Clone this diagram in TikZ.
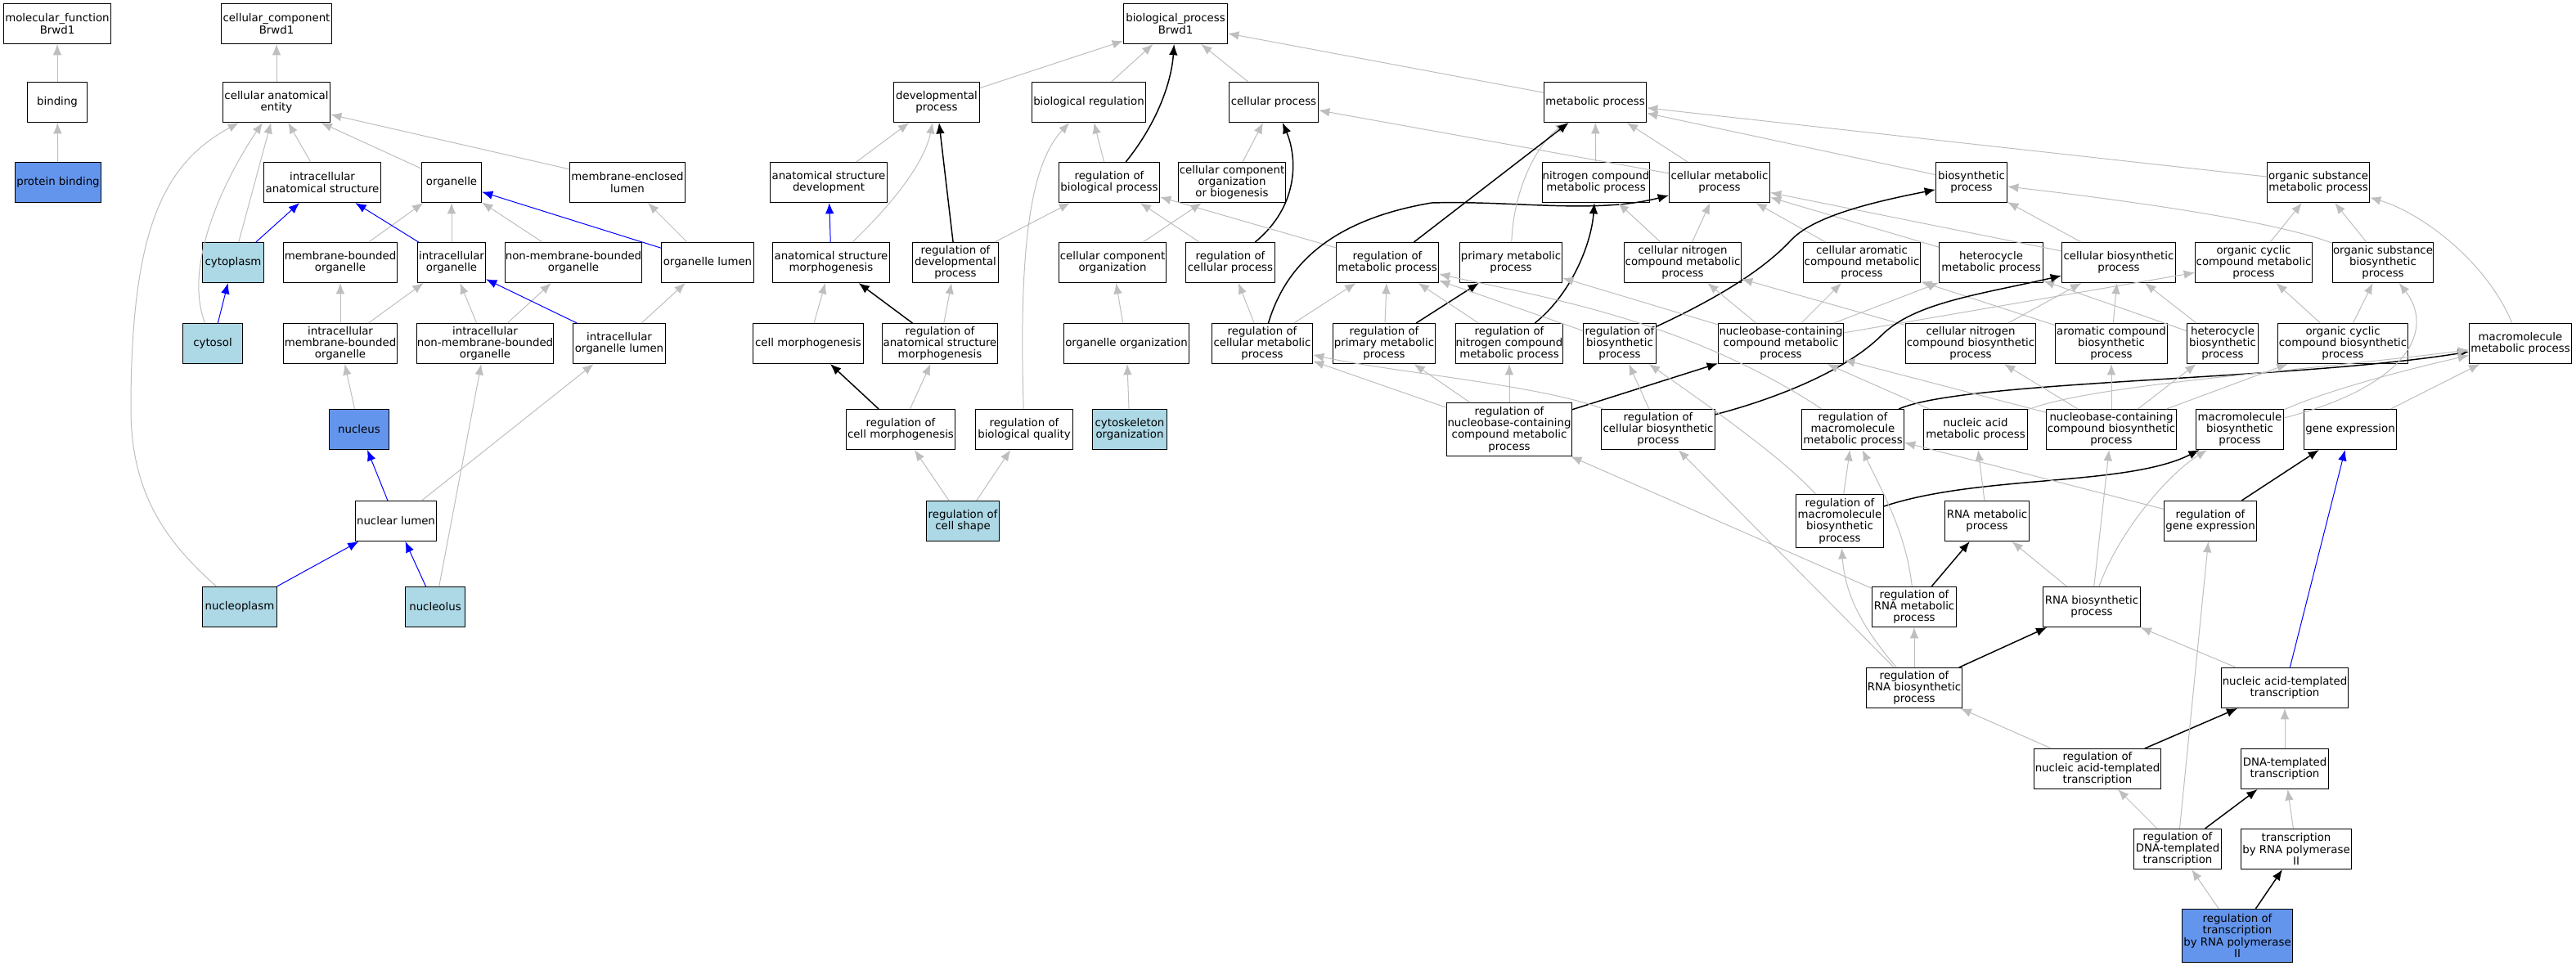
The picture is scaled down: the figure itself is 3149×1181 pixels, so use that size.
\documentclass[tikz,border=0pt]{standalone}
\usepackage{fontspec}
\setmainfont{DejaVu Sans}
\usetikzlibrary{arrows.meta}
\definecolor{edgegray}{RGB}{190,190,190}
\definecolor{cornflower}{RGB}{100,149,237}
\definecolor{paleblue}{RGB}{173,216,230}

\begin{document}
\begin{tikzpicture}[x=0.75pt,y=-0.75pt,
  box/.style={draw=black,line width=0.75pt,fill=white,align=center,inner sep=0pt,
    minimum height=36.75pt,font=\fontsize{10}{10.7}\selectfont},
  tall/.style={minimum height=48.75pt},
  bw/.style={minimum width=#1*0.75pt},
  isa/.style={draw=edgegray,line width=0.75pt,-{Latex[length=10pt,width=8pt]}},
  partof/.style={draw=blue,line width=0.75pt,-{Latex[length=10pt,width=8pt]}},
  regby/.style={draw=black,line width=1.1pt,-{Latex[length=10pt,width=8pt]}}]
\useasboundingbox (0,0) rectangle (3149,1181);
% molecular function
\node[box,bw=131] (molfun) at (70,29) {molecular\_function\\Brwd1};
\node[box,bw=73] (binding) at (70,125) {binding};
\node[box,bw=105,fill=cornflower] (protbind) at (71,223) {protein binding};
% cellular component
\node[box,bw=135] (cellcomp) at (338,29) {cellular\_component\\Brwd1};
\node[box,bw=131] (anatent) at (338,125) {cellular anatomical\\entity};
\node[box,bw=143] (intraanat) at (394,223) {intracellular\\anatomical structure};
\node[box,bw=73] (organelle) at (552,223) {organelle};
\node[box,bw=141] (memlumen) at (767,223) {membrane-enclosed\\lumen};
\node[box,bw=75,fill=paleblue] (cytoplasm) at (285,321) {cytoplasm};
\node[box,bw=139] (memborg) at (416,321) {membrane-bounded\\organelle};
\node[box,bw=83] (intraorg) at (552,321) {intracellular\\organelle};
\node[box,bw=167] (nonmemorg) at (701,321) {non-membrane-bounded\\organelle};
\node[box,bw=113] (orglumen) at (865,321) {organelle lumen};
\node[box,bw=73,fill=paleblue] (cytosol) at (260,420) {cytosol};
\node[box,bw=139] (intramemorg) at (416,420) {intracellular\\membrane-bounded\\organelle};
\node[box,bw=167] (intranonmem) at (593,420) {intracellular\\non-membrane-bounded\\organelle};
\node[box,bw=113] (intralumen) at (757,420) {intracellular\\organelle lumen};
\node[box,bw=73,fill=cornflower] (nucleus) at (439,525) {nucleus};
\node[box,bw=99] (nuclumen) at (484,637) {nuclear lumen};
\node[box,bw=91,fill=paleblue] (nucleoplasm) at (293,742) {nucleoplasm};
\node[box,bw=73,fill=paleblue] (nucleolus) at (532,742) {nucleolus};
% biological process, upper rows
\node[box,bw=127] (bioproc) at (1437,29) {biological\_process\\Brwd1};
\node[box,bw=105] (devproc) at (1145,125) {developmental\\process};
\node[box,bw=139] (bioreg) at (1331,125) {biological regulation};
\node[box,bw=109] (cellproc) at (1557,125) {cellular process};
\node[box,bw=125] (metproc) at (1950,125) {metabolic process};
\node[box,bw=143] (anatdev) at (1013,223) {anatomical structure\\development};
\node[box,bw=123] (regbio) at (1356,223) {regulation of\\biological process};
\node[box,bw=131] (ccorgbio) at (1506,223) {cellular component\\organization\\or biogenesis};
\node[box,bw=131] (nitmet) at (1951,223) {nitrogen compound\\metabolic process};
\node[box,bw=123] (cellmet) at (2102,223) {cellular metabolic\\process};
\node[box,bw=87] (biosyn) at (2410,223) {biosynthetic\\process};
\node[box,bw=125] (orgsubmet) at (2834,223) {organic substance\\metabolic process};
\node[box,bw=143] (anatmorph) at (1016,321) {anatomical structure\\morphogenesis};
\node[box,bw=105] (regdev) at (1168,321) {regulation of\\developmental\\process};
\node[box,bw=131] (ccorg) at (1360,321) {cellular component\\organization};
\node[box,bw=109] (regcell) at (1504,321) {regulation of\\cellular process};
\node[box,bw=125] (regmet) at (1696,321) {regulation of\\metabolic process};
\node[box,bw=125] (primmet) at (1847,321) {primary metabolic\\process};
\node[box,bw=143] (cellnitmet) at (2057,321) {cellular nitrogen\\compound metabolic\\process};
\node[box,bw=143] (cellaromet) at (2276,321) {cellular aromatic\\compound metabolic\\process};
\node[box,bw=127] (hetmet) at (2434,321) {heterocycle\\metabolic process};
\node[box,bw=139] (cellbiosyn) at (2590,321) {cellular biosynthetic\\process};
\node[box,bw=143] (orgcycmet) at (2755,321) {organic cyclic\\compound metabolic\\process};
\node[box,bw=123] (orgsubbio) at (2913,321) {organic substance\\biosynthetic\\process};
% biological process, middle rows
\node[box,bw=135] (cellmorph) at (988,420) {cell morphogenesis};
\node[box,bw=141] (reganatmorph) at (1149,420) {regulation of\\anatomical structure\\morphogenesis};
\node[box,bw=153] (orgorg) at (1377,420) {organelle organization};
\node[box,bw=123] (regcellmet) at (1543,420) {regulation of\\cellular metabolic\\process};
\node[box,bw=125] (regprim) at (1692,420) {regulation of\\primary metabolic\\process};
\node[box,bw=131] (regnit) at (1845,420) {regulation of\\nitrogen compound\\metabolic process};
\node[box,bw=89] (regbiosyn) at (1980,420) {regulation of\\biosynthetic\\process};
\node[box,bw=153] (nucmet) at (2177,420) {nucleobase-containing\\compound metabolic\\process};
\node[box,bw=159] (cellnitbio) at (2409,420) {cellular nitrogen\\compound biosynthetic\\process};
\node[box,bw=137] (arobio) at (2581,420) {aromatic compound\\biosynthetic\\process};
\node[box,bw=87] (hetbio) at (2717,420) {heterocycle\\biosynthetic\\process};
\node[box,bw=159] (orgcycbio) at (2864,420) {organic cyclic\\compound biosynthetic\\process};
\node[box,bw=125] (macromet) at (3081,420) {macromolecule\\metabolic process};
\node[box,bw=133] (regcellmorph) at (1101,525) {regulation of\\cell morphogenesis};
\node[box,bw=119] (regqual) at (1252,525) {regulation of\\biological quality};
\node[box,bw=91,fill=paleblue] (cytoskel) at (1381,525) {cytoskeleton\\organization};
\node[box,bw=153,tall] (regnucmet) at (1845,525) {regulation of\\nucleobase-containing\\compound metabolic\\process};
\node[box,bw=139] (regcellbio) at (2027,525) {regulation of\\cellular biosynthetic\\process};
\node[box,bw=125] (regmacromet) at (2265,525) {regulation of\\macromolecule\\metabolic process};
\node[box,bw=127] (nucacidmet) at (2415,525) {nucleic acid\\metabolic process};
\node[box,bw=159] (nucbio) at (2581,525) {nucleobase-containing\\compound biosynthetic\\process};
\node[box,bw=107] (macrobio) at (2738,525) {macromolecule\\biosynthetic\\process};
\node[box,bw=113] (geneexp) at (2873,525) {gene expression};
% biological process, lower rows
\node[box,bw=89,fill=paleblue] (regshape) at (1177,637) {regulation of\\cell shape};
\node[box,bw=107,tall] (regmacrobio) at (2249,637) {regulation of\\macromolecule\\biosynthetic\\process};
\node[box,bw=103] (rnamet) at (2429,637) {RNA metabolic\\process};
\node[box,bw=113] (reggene) at (2702,637) {regulation of\\gene expression};
\node[box,bw=103] (regrnamet) at (2340,742) {regulation of\\RNA metabolic\\process};
\node[box,bw=119] (rnabio) at (2557,742) {RNA biosynthetic\\process};
\node[box,bw=117] (regrnabio) at (2340,841) {regulation of\\RNA biosynthetic\\process};
\node[box,bw=155] (natrans) at (2793,841) {nucleic acid-templated\\transcription};
\node[box,bw=155] (regnatrans) at (2564,940) {regulation of\\nucleic acid-templated\\transcription};
\node[box,bw=107] (dnatrans) at (2793,940) {DNA-templated\\transcription};
\node[box,bw=107] (regdnatrans) at (2662,1038) {regulation of\\DNA-templated\\transcription};
\node[box,bw=135] (polII) at (2807,1038) {transcription\\by RNA polymerase\\II};
\node[box,bw=135,tall,fill=cornflower] (regpolII) at (2735,1144) {regulation of\\transcription\\by RNA polymerase\\II};
% molecular function edges
\draw[isa] (binding) -- (molfun);
\draw[isa] (protbind) -- (binding);
% cellular component edges
\draw[isa] (anatent) -- (cellcomp);
\draw[isa] (intraanat) -- (anatent);
\draw[isa] (organelle) -- (anatent);
\draw[isa] (memlumen) -- (anatent);
\draw[isa] (cytoplasm) -- (anatent);
\draw[isa] (cytosol) .. controls (222,320) and (280,210) .. (anatent);
\draw[isa] (nucleoplasm) .. controls (200,660) and (160,600) .. (160,500) .. controls (160,280) and (200,200) .. (anatent);
\draw[partof] (cytoplasm) -- (intraanat);
\draw[partof] (cytosol) -- (cytoplasm);
\draw[isa] (memborg) -- (organelle);
\draw[isa] (intraorg) -- (organelle);
\draw[partof] (intraorg) -- (intraanat);
\draw[isa] (nonmemorg) -- (organelle);
\draw[partof] (orglumen) -- (organelle);
\draw[isa] (orglumen) -- (memlumen);
\draw[isa] (intramemorg) -- (memborg);
\draw[isa] (intramemorg) -- (intraorg);
\draw[isa] (intranonmem) -- (intraorg);
\draw[isa] (intranonmem) -- (nonmemorg);
\draw[partof] (intralumen) -- (intraorg);
\draw[isa] (intralumen) -- (orglumen);
\draw[isa] (nucleus) -- (intramemorg);
\draw[partof] (nuclumen) -- (nucleus);
\draw[isa] (nuclumen) -- (intralumen);
\draw[partof] (nucleoplasm) -- (nuclumen);
\draw[partof] (nucleolus) -- (nuclumen);
\draw[isa] (nucleolus) -- (intranonmem);
% development and regulation edges
\draw[isa] (devproc) -- (bioproc);
\draw[isa] (bioreg) -- (bioproc);
\draw[regby] (regbio) .. controls (1415,150) and (1432,100) .. (bioproc);
\draw[isa] (cellproc) -- (bioproc);
\draw[isa] (metproc) -- (bioproc);
\draw[isa] (anatdev) -- (devproc);
\draw[isa] (anatmorph) .. controls (1090,250) and (1130,200) .. (devproc);
\draw[regby] (regdev) -- (devproc);
\draw[partof] (anatmorph) -- (anatdev);
\draw[isa] (regbio) -- (bioreg);
\draw[isa] (regqual) .. controls (1245,300) and (1260,200) .. (bioreg);
\draw[isa] (ccorgbio) -- (cellproc);
\draw[regby] (regcell) .. controls (1590,250) and (1585,190) .. (cellproc);
\draw[isa] (cellmet) -- (cellproc);
\draw[isa] (regdev) -- (regbio);
\draw[isa] (regcell) -- (regbio);
\draw[isa] (regmet) -- (regbio);
\draw[isa] (ccorg) -- (ccorgbio);
\draw[isa] (cellmorph) -- (anatmorph);
\draw[regby] (reganatmorph) -- (anatmorph);
\draw[isa] (reganatmorph) -- (regdev);
\draw[isa] (orgorg) -- (ccorg);
\draw[isa] (regcellmet) -- (regcell);
\draw[isa] (regcellmet) -- (regmet);
\draw[regby] (regcellmet) .. controls (1570,330) and (1620,270) .. (1750,248) .. controls (1850,245) and (1950,262) .. (cellmet);
\draw[regby] (regcellmorph) -- (cellmorph);
\draw[isa] (regcellmorph) -- (reganatmorph);
\draw[isa] (cytoskel) -- (orgorg);
\draw[isa] (regshape) -- (regcellmorph);
\draw[isa] (regshape) -- (regqual);
% metabolism edges
\draw[isa] (nitmet) -- (metproc);
\draw[isa] (cellmet) -- (metproc);
\draw[isa] (primmet) .. controls (1850,230) and (1880,175) .. (metproc);
\draw[regby] (regmet) -- (metproc);
\draw[isa] (biosyn) -- (metproc);
\draw[isa] (orgsubmet) -- (metproc);
\draw[isa] (cellnitmet) -- (nitmet);
\draw[isa] (cellnitmet) -- (cellmet);
\draw[isa] (cellaromet) -- (cellmet);
\draw[isa] (hetmet) -- (cellmet);
\draw[isa] (cellbiosyn) -- (cellmet);
\draw[isa] (cellbiosyn) -- (biosyn);
\draw[isa] (orgsubbio) .. controls (2780,270) and (2600,245) .. (biosyn);
\draw[isa] (orgcycmet) -- (orgsubmet);
\draw[isa] (orgsubbio) -- (orgsubmet);
\draw[isa] (macromet) .. controls (3040,320) and (2960,260) .. (orgsubmet);
\draw[isa] (regprim) -- (regmet);
\draw[regby] (regprim) -- (primmet);
\draw[isa] (regnit) -- (regmet);
\draw[regby] (regnit) .. controls (1920,360) and (1945,300) .. (nitmet);
\draw[isa] (regbiosyn) -- (regmet);
\draw[regby] (regbiosyn) .. controls (2120,355) and (2165,320) .. (2190,293) .. controls (2220,262) and (2300,245) .. (biosyn);
\draw[isa] (nucmet) -- (primmet);
\draw[isa] (nucmet) -- (cellnitmet);
\draw[isa] (nucmet) -- (cellaromet);
\draw[isa] (nucmet) -- (hetmet);
\draw[isa] (nucmet) -- (orgcycmet);
\draw[isa] (cellnitbio) -- (cellnitmet);
\draw[isa] (cellnitbio) -- (cellbiosyn);
\draw[isa] (arobio) -- (cellaromet);
\draw[isa] (arobio) -- (cellbiosyn);
\draw[isa] (hetbio) -- (hetmet);
\draw[isa] (hetbio) -- (cellbiosyn);
\draw[isa] (orgcycbio) -- (orgcycmet);
\draw[isa] (orgcycbio) -- (orgsubbio);
\draw[isa] (regnucmet) -- (regcellmet);
\draw[isa] (regnucmet) -- (regprim);
\draw[isa] (regnucmet) -- (regnit);
\draw[regby] (regnucmet) -- (nucmet);
\draw[isa] (regcellbio) .. controls (1880,470) and (1700,455) .. (regcellmet);
\draw[isa] (regcellbio) -- (regbiosyn);
\draw[regby] (regcellbio) .. controls (2180,485) and (2260,450) .. (2300,410) .. controls (2340,370) and (2420,360) .. (cellbiosyn);
\draw[isa] (regmacromet) .. controls (2060,390) and (1880,362) .. (regmet);
\draw[regby] (regmacromet) .. controls (2400,465) and (2800,465) .. (macromet);
\draw[isa] (nucacidmet) -- (nucmet);
\draw[isa] (nucacidmet) .. controls (2560,470) and (2800,455) .. (macromet);
\draw[isa] (nucbio) -- (nucmet);
\draw[isa] (nucbio) -- (cellnitbio);
\draw[isa] (nucbio) -- (arobio);
\draw[isa] (nucbio) -- (hetbio);
\draw[isa] (nucbio) -- (orgcycbio);
\draw[isa] (macrobio) .. controls (2850,475) and (2950,450) .. (macromet);
\draw[isa] (macrobio) .. controls (2950,470) and (2975,400) .. (orgsubbio);
\draw[isa] (geneexp) -- (macromet);
% transcription edges
\draw[isa] (regmacrobio) -- (regmacromet);
\draw[isa] (regmacrobio) .. controls (2180,560) and (2080,490) .. (regbiosyn);
\draw[regby] (regmacrobio) .. controls (2420,580) and (2600,595) .. (macrobio);
\draw[isa] (rnamet) -- (nucacidmet);
\draw[isa] (reggene) -- (regmacromet);
\draw[regby] (reggene) -- (geneexp);
\draw[isa] (regrnamet) -- (regnucmet);
\draw[isa] (regrnamet) .. controls (2330,650) and (2300,600) .. (regmacromet);
\draw[regby] (regrnamet) -- (rnamet);
\draw[isa] (rnabio) -- (rnamet);
\draw[isa] (rnabio) -- (nucbio);
\draw[isa] (rnabio) .. controls (2590,650) and (2650,580) .. (macrobio);
\draw[isa] (regrnabio) -- (regrnamet);
\draw[isa] (regrnabio) .. controls (2270,760) and (2255,720) .. (regmacrobio);
\draw[isa] (regrnabio) -- (regcellbio);
\draw[regby] (regrnabio) -- (rnabio);
\draw[isa] (natrans) -- (rnabio);
\draw[partof] (natrans) -- (geneexp);
\draw[isa] (regnatrans) -- (regrnabio);
\draw[regby] (regnatrans) -- (natrans);
\draw[isa] (dnatrans) -- (natrans);
\draw[isa] (regdnatrans) -- (regnatrans);
\draw[regby] (regdnatrans) -- (dnatrans);
\draw[isa] (regdnatrans) -- (reggene);
\draw[isa] (polII) -- (dnatrans);
\draw[isa] (regpolII) -- (regdnatrans);
\draw[regby] (regpolII) -- (polII);
\end{tikzpicture}
\end{document}
